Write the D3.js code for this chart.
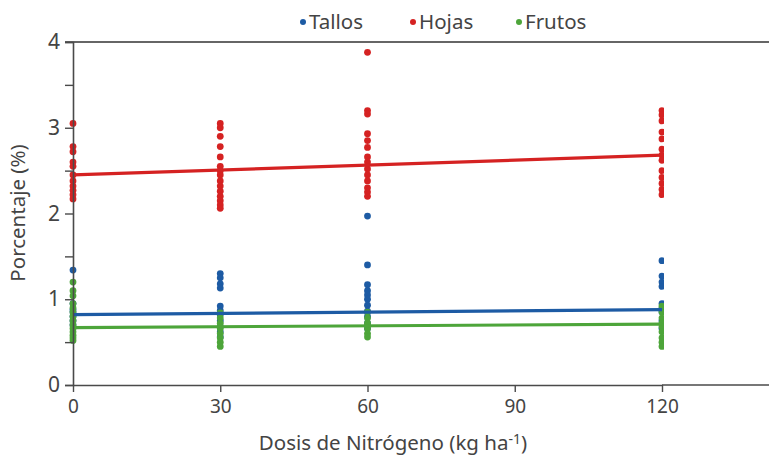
<!DOCTYPE html>
<html><head><meta charset="utf-8">
<script src="https://cdn.jsdelivr.net/npm/d3@7"></script>
<style>body{margin:0;background:#fff}svg{display:block}text{font-family:"Noto Sans","Open Sans",sans-serif}</style>
</head><body><svg id="c" width="769" height="459"></svg>
<script>
const doses = [0, 30, 60, 120];
const seriesNames = ["Tallos", "Hojas", "Frutos"];
const seriesColors = ["#1d5ba4", "#d52222", "#4da53a"];
// observed values per dose (%)
const tallos = [
  [1.34, 0.95, 0.88, 0.85, 0.8, 0.75, 0.7],
  [1.3, 1.25, 1.18, 1.13, 0.92, 0.87, 0.82, 0.75, 0.68, 0.62, 0.56],
  [1.97, 1.4, 1.17, 1.1, 1.05, 1.0, 0.93, 0.86, 0.8, 0.72, 0.66],
  [1.45, 1.27, 1.2, 1.15, 0.95, 0.9, 0.85, 0.75, 0.66]
];
const hojas = [
  [3.05, 2.78, 2.72, 2.6, 2.55, 2.45, 2.38, 2.32, 2.27, 2.22, 2.17],
  [3.05, 3.0, 2.9, 2.78, 2.66, 2.55, 2.5, 2.45, 2.38, 2.32, 2.26, 2.2, 2.15, 2.1, 2.06],
  [3.88, 3.2, 3.16, 2.93, 2.85, 2.77, 2.66, 2.6, 2.52, 2.45, 2.38, 2.3, 2.25, 2.2],
  [3.2, 3.15, 3.08, 2.95, 2.87, 2.75, 2.68, 2.62, 2.5, 2.42, 2.35, 2.28, 2.22]
];
const frutos = [
  [1.2, 1.1, 1.04, 0.95, 0.9, 0.85, 0.8, 0.75, 0.7, 0.66, 0.62, 0.58, 0.55, 0.52],
  [0.84, 0.78, 0.72, 0.66, 0.6, 0.55, 0.5, 0.45],
  [0.85, 0.78, 0.72, 0.66, 0.6, 0.56],
  [0.92, 0.85, 0.78, 0.72, 0.68, 0.62, 0.55, 0.5, 0.45]
];
// fitted trend lines: value at dose 0 and at dose 120
const trendStart = [0.82, 2.45, 0.67];
const trendEnd = [0.88, 2.68, 0.71];
const xTicks = [0, 30, 60, 90, 120];
const yTicks = [0, 1, 2, 3, 4];
const yMinorTicks = [0.5, 1.5, 2.5, 3.5];

const svg = d3.select("#c");
const x = d3.scaleLinear().domain([0, 120]).range([73, 662]);
const y = d3.scaleLinear().domain([0, 4]).range([385, 42]);
const axisColor = "#4a4a4a";
const FONT = '"Noto Sans","Open Sans",sans-serif';

// top frame line
svg.append("line").attr("x1", 65).attr("x2", 769).attr("y1", y(4)).attr("y2", y(4))
  .attr("stroke", "#666").attr("stroke-width", 2);

// clip for points (right half of last column is cut in reference)
svg.append("defs").append("clipPath").attr("id", "clip")
  .append("rect").attr("x", 60).attr("y", 30).attr("width", x(120) + 2 - 60).attr("height", 370);

const all = [tallos, hojas, frutos];
const order = [1, 0, 2];
const g = svg.append("g").attr("clip-path", "url(#clip)");
order.forEach(si => {
  const pts = [];
  all[si].forEach((vals, di) => vals.forEach(v => pts.push({d: doses[di], v})));
  g.selectAll(null).data(pts).enter().append("circle")
    .attr("cx", p => x(p.d)).attr("cy", p => y(p.v)).attr("r", 3.4)
    .attr("fill", seriesColors[si]);
});
order.forEach(si => {
  svg.append("line").attr("x1", x(0)).attr("x2", x(120))
    .attr("y1", y(trendStart[si])).attr("y2", y(trendEnd[si]))
    .attr("stroke", seriesColors[si]).attr("stroke-width", 3.2);
});

// y axis
const yAxis = svg.append("g").attr("transform", `translate(${x(0)},0)`)
  .call(d3.axisLeft(y).tickValues(yTicks.concat(yMinorTicks)).tickSize(8)
    .tickFormat(d => yTicks.includes(d) ? d : ""));
yAxis.select(".domain").attr("stroke", axisColor).attr("stroke-width", 1.6);
yAxis.selectAll(".tick line").attr("stroke", axisColor).attr("stroke-width", 1.4);
yAxis.selectAll(".tick text").attr("font-size", 21).attr("fill", "#444").attr("x", -13)
  .attr("font-family", FONT);

// x axis
const xAxis = svg.append("g").attr("transform", `translate(0,${y(0)})`)
  .call(d3.axisBottom(x).tickValues(xTicks).tickSize(7).tickSizeOuter(0));
xAxis.select(".domain").attr("stroke", axisColor).attr("stroke-width", 1.6);
xAxis.selectAll(".tick line").attr("stroke", axisColor).attr("stroke-width", 1.4);
xAxis.selectAll(".tick text").attr("font-size", 19).attr("fill", "#444").attr("y", 15)
  .attr("font-family", FONT);
svg.append("line").attr("x1", x(120)).attr("x2", 769).attr("y1", y(0)).attr("y2", y(0))
  .attr("stroke", axisColor).attr("stroke-width", 1.6);

// axis titles
const xt = svg.append("text").attr("x", 393).attr("y", 450).attr("text-anchor", "middle")
  .attr("font-size", 20.5).attr("fill", "#444");
xt.append("tspan").text("Dosis de Nitrógeno (kg ha");
xt.append("tspan").attr("font-size", 14).attr("dy", -6).text("-1");
xt.append("tspan").attr("dy", 6).text(")");

svg.append("text").attr("transform", "translate(25,213) rotate(-90)")
  .attr("text-anchor", "middle").attr("font-size", 20.5).attr("fill", "#444")
  .text("Porcentaje (%)");

// legend
const legX = [303, 413, 519];
seriesNames.forEach((n, i) => {
  svg.append("circle").attr("cx", legX[i]).attr("cy", 22).attr("r", 3).attr("fill", seriesColors[i]);
  svg.append("text").attr("x", legX[i] + 6).attr("y", 29).attr("font-size", 20.5)
    .attr("fill", "#444").text(n);
});
</script></body></html>
